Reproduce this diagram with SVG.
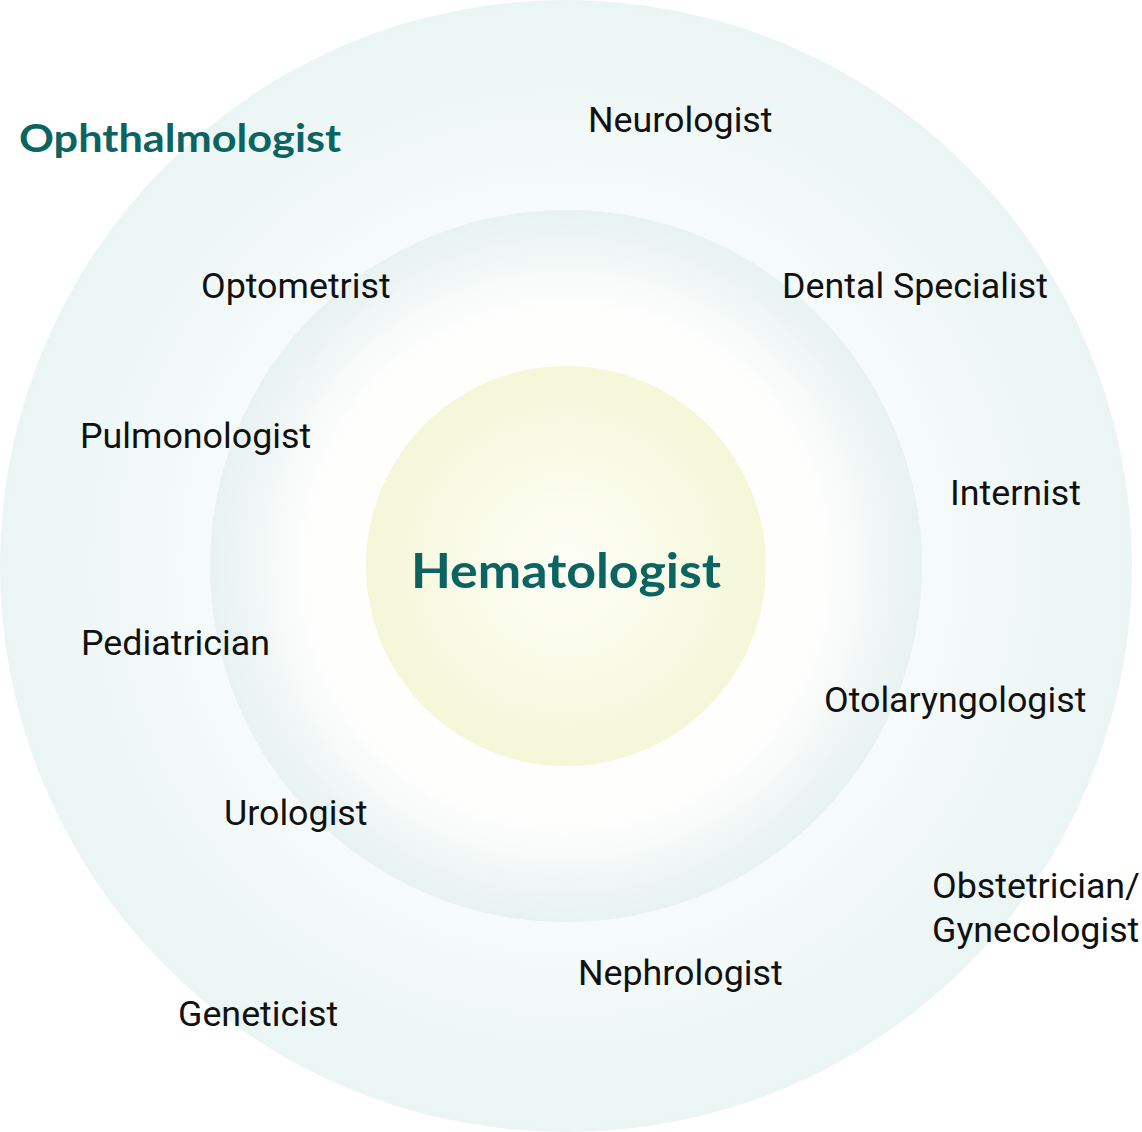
<svg xmlns="http://www.w3.org/2000/svg" width="1142" height="1132" viewBox="0 0 1142 1132">
  <defs>
    <radialGradient id="gOuter" cx="0.5" cy="0.5" r="0.5">
      <stop offset="0" stop-color="#ffffff"/>
      <stop offset="0.6" stop-color="#f7fbfb"/>
      <stop offset="1" stop-color="#eaf5f4"/>
    </radialGradient>
    <radialGradient id="gMiddle" cx="0.5" cy="0.5" r="0.5">
      <stop offset="0" stop-color="#ffffff"/>
      <stop offset="0.72" stop-color="#fefefd"/>
      <stop offset="1" stop-color="#e7f2f1"/>
    </radialGradient>
    <radialGradient id="gInner" cx="0.5" cy="0.5" r="0.5">
      <stop offset="0" stop-color="#fdfef6"/>
      <stop offset="0.5" stop-color="#f9fbe8"/>
      <stop offset="1" stop-color="#f4f7d8"/>
    </radialGradient>
  </defs>
  <style>
    .lbl { font-family: Roboto, "Liberation Sans", sans-serif; font-size: 35.8px; fill: #111111; }
    .head { font-family: Lato, "Open Sans", sans-serif; font-weight: 700; fill: #0b6461; }
  </style>
  <rect width="1142" height="1132" fill="#ffffff"/>
  <g id="rings">
    <circle id="outer-ring" cx="566" cy="566" r="566" fill="url(#gOuter)"/>
    <circle id="middle-ring" cx="566" cy="566" r="356" fill="url(#gMiddle)"/>
    <circle id="inner-ring" cx="566" cy="566" r="200" fill="url(#gInner)"/>
  </g>
  <g id="connectors"></g>
  <g id="node-hematologist"><text class="head" x="411" y="588" font-size="48" textLength="310" lengthAdjust="spacingAndGlyphs">Hematologist</text></g>
  <g id="node-ophthalmologist"><text class="head" x="19" y="152" font-size="39" textLength="322" lengthAdjust="spacingAndGlyphs">Ophthalmologist</text></g>
  <g id="node-neurologist"><text class="lbl" x="588" y="132">Neurologist</text></g>
  <g id="node-optometrist"><text class="lbl" x="201" y="298">Optometrist</text></g>
  <g id="node-dental"><text class="lbl" x="782" y="298">Dental Specialist</text></g>
  <g id="node-pulmonologist"><text class="lbl" x="80" y="448">Pulmonologist</text></g>
  <g id="node-internist"><text class="lbl" x="950" y="505">Internist</text></g>
  <g id="node-pediatrician"><text class="lbl" x="81" y="655">Pediatrician</text></g>
  <g id="node-otolaryngologist"><text class="lbl" x="824" y="712">Otolaryngologist</text></g>
  <g id="node-urologist"><text class="lbl" x="224" y="825">Urologist</text></g>
  <g id="node-obgyn"><text class="lbl" x="932" y="898">Obstetrician/</text><text class="lbl" x="932" y="942">Gynecologist</text></g>
  <g id="node-nephrologist"><text class="lbl" x="578" y="985">Nephrologist</text></g>
  <g id="node-geneticist"><text class="lbl" x="178" y="1026">Geneticist</text></g>
</svg>
